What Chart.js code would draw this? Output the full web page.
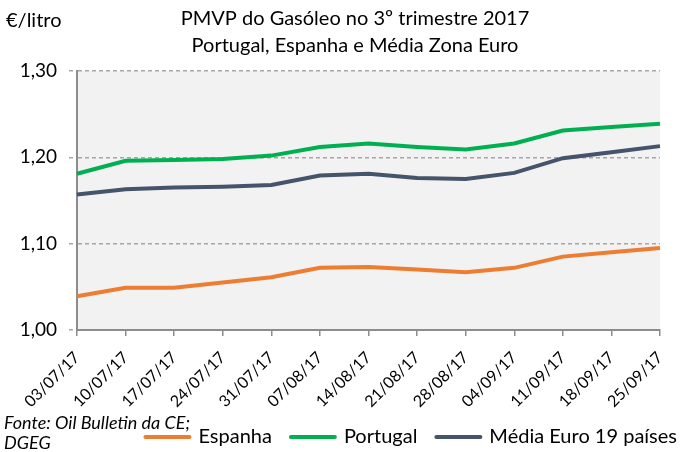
<!DOCTYPE html>
<html>
<head>
<meta charset="utf-8">
<script src="https://cdn.jsdelivr.net/npm/chart.js@4"></script>
<style>
  html, body { margin: 0; padding: 0; background: #ffffff; }
  #wrap { width: 680px; height: 452px; position: relative; }
</style>
</head>
<body>
<div id="wrap"><canvas id="chart" width="680" height="452"></canvas></div>
<script>
// Semanas do 3º trimestre 2017
const weeks = ["03/07/17", "10/07/17", "17/07/17", "24/07/17", "31/07/17", "07/08/17", "14/08/17",
               "21/08/17", "28/08/17", "04/09/17", "11/09/17", "18/09/17", "25/09/17"];

// Preços médios de venda ao público (€/litro)
const espanha  = [1.039, 1.049, 1.049, 1.055, 1.061, 1.072, 1.073, 1.070, 1.067, 1.072, 1.085, 1.090, 1.095];
const portugal = [1.181, 1.196, 1.197, 1.198, 1.202, 1.212, 1.216, 1.212, 1.209, 1.216, 1.231, 1.235, 1.239];
const mediaEuro = [1.157, 1.163, 1.165, 1.166, 1.168, 1.179, 1.181, 1.176, 1.175, 1.182, 1.199, 1.206, 1.213];

const yTicks = [1.00, 1.10, 1.20, 1.30];

const FONT = "Lato, 'Open Sans', sans-serif";
const GRID = "#a6a6a6";
const AXIS = "#8c8c8c";

// fundo cinzento da área do gráfico + textos extra
const extrasPlugin = {
    id: "extras",
    beforeDraw(chart) {
        const { ctx, chartArea } = chart;
        ctx.save();
        ctx.fillStyle = "#f2f2f2";
        ctx.fillRect(chartArea.left, chartArea.top, chartArea.right - chartArea.left, chartArea.bottom - chartArea.top);
        ctx.restore();
    },
    afterDraw(chart) {
        const ctx = chart.ctx;
        ctx.save();
        ctx.fillStyle = "#000000";
        ctx.textBaseline = "middle";

        // título
        ctx.font = "20px " + FONT;
        ctx.textAlign = "center";
        ctx.fillText("PMVP do Gasóleo no 3º trimestre 2017", 355, 19);
        ctx.fillText("Portugal, Espanha e Média Zona Euro", 355, 46);

        // unidade
        ctx.textAlign = "left";
        ctx.fillText("€/litro", 6, 21);

        // fonte
        ctx.font = "italic 18px " + FONT;
        ctx.fillText("Fonte: Oil Bulletin da CE;", 4, 423);
        ctx.fillText("DGEG", 4, 443);

        // legenda (alinhada à direita)
        ctx.font = "20px " + FONT;
        const datasets = chart.data.datasets;
        const boxW = 48, gapText = 7, gapItem = 17;
        let total = 0;
        datasets.forEach((ds, i) => {
            total += boxW + gapText + ctx.measureText(ds.label).width;
            if (i < datasets.length - 1) total += gapItem;
        });
        let x = 677 - total;
        const y = 437;
        datasets.forEach(ds => {
            ctx.strokeStyle = ds.borderColor;
            ctx.lineWidth = 4;
            ctx.lineCap = "round";
            ctx.beginPath();
            ctx.moveTo(x + 2, y);
            ctx.lineTo(x + boxW - 2, y);
            ctx.stroke();
            x += boxW + gapText;
            ctx.fillText(ds.label, x, y);
            x += ctx.measureText(ds.label).width + gapItem;
        });
        ctx.restore();
    }
};

const ctx = document.getElementById("chart").getContext("2d");

new Chart(ctx, {
    type: "line",
    data: {
        labels: weeks,
        datasets: [
            {
                label: "Espanha",
                data: espanha,
                borderColor: "#ED7D31",
                borderWidth: 4,
                pointRadius: 0,
                tension: 0
            },
            {
                label: "Portugal",
                data: portugal,
                borderColor: "#00B050",
                borderWidth: 4,
                pointRadius: 0,
                tension: 0
            },
            {
                label: "Média Euro 19 países",
                data: mediaEuro,
                borderColor: "#44546A",
                borderWidth: 4,
                pointRadius: 0,
                tension: 0
            }
        ]
    },
    options: {
        responsive: false,
        animation: false,
        layout: {
            padding: { top: 71, right: 20, bottom: 0, left: 0 }
        },
        plugins: {
            legend: { display: false },
            title: { display: false },
            tooltip: { enabled: false }
        },
        scales: {
            x: {
                offset: false,
                afterFit: scale => {
                    scale.height = 122;
                    scale.paddingLeft = 0;
                    scale.paddingRight = 0;
                },
                grid: {
                    drawOnChartArea: false,
                    drawTicks: true,
                    tickLength: 6,
                    color: AXIS,
                    lineWidth: 1.5
                },
                border: { display: true, color: AXIS, width: 2 },
                ticks: {
                    minRotation: 45,
                    maxRotation: 45,
                    autoSkip: false,
                    padding: 12,
                    color: "#000000",
                    font: { family: FONT, size: 16 }
                }
            },
            y: {
                min: yTicks[0],
                max: yTicks[yTicks.length - 1],
                afterFit: scale => { scale.width = 77; },
                afterBuildTicks: scale => { scale.ticks = yTicks.map(v => ({ value: v })); },
                grid: {
                    color: GRID,
                    lineWidth: 1.5,
                    tickLength: 8,
                    tickBorderDash: [4, 3]
                },
                border: { display: true, color: AXIS, width: 2, dash: [4, 3] },
                ticks: {
                    padding: 12,
                    color: "#000000",
                    font: { family: FONT, size: 19 },
                    callback: v => v.toFixed(2).replace(".", ",")
                }
            }
        }
    },
    plugins: [extrasPlugin]
});
</script>
</body>
</html>
